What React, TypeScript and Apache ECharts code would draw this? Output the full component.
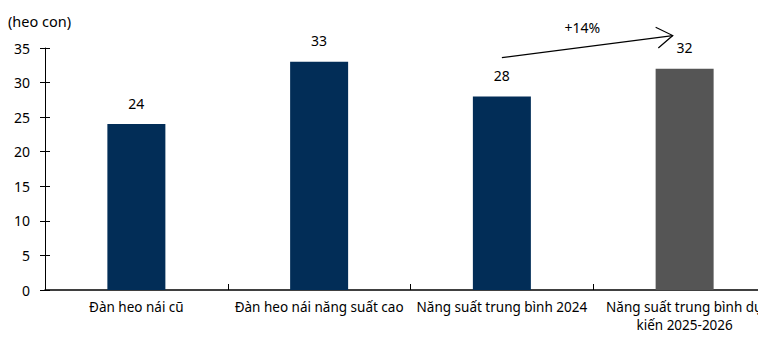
import React, { useEffect, useRef } from "react";
import * as echarts from "echarts";

const categories = [
  "Đàn heo nái cũ",
  "Đàn heo nái năng suất cao",
  "Năng suất trung bình 2024",
  "Năng suất trung bình dự\nkiến 2025-2026",
];
const values = [24, 33, 28, 32];
const barColors = ["#022D57", "#022D57", "#022D57", "#555555"];
const yTicks = [0, 5, 10, 15, 20, 25, 30, 35];
const unitLabel = "(heo con)";
const growthLabel = "+14%";
// arrow endpoints in data space: [category position, value]
const arrowStart = [2, 33.6];
const arrowEnd = [2.935, 36.8];

const FONT = "Noto Sans";

export default function App() {
  const ref = useRef<HTMLDivElement>(null);
  useEffect(() => {
    if (!ref.current) return;
    const chart = echarts.init(ref.current, null, { renderer: "svg" });
    const option: any = {
      animation: false,
      textStyle: { fontFamily: FONT, color: "#000" },
      grid: { left: 45, width: 731, top: 48, height: 242, containLabel: false, outerBoundsMode: "none" },
      xAxis: {
        type: "category",
        data: categories,
        axisLine: { lineStyle: { color: "#000", width: 1.5 } },
        axisTick: { show: true, inside: true, length: 6, lineStyle: { color: "#000" } },
        axisLabel: { fontFamily: FONT, fontSize: 13.5, color: "#000", margin: 8, lineHeight: 18, interval: 0 },
      },
      yAxis: [
        {
          type: "value",
          min: yTicks[0],
          max: yTicks[yTicks.length - 1],
          interval: 5,
          name: unitLabel,
          nameLocation: "end",
          nameGap: 20,
          nameTextStyle: { fontFamily: FONT, fontSize: 14.5, color: "#000", align: "left", padding: [0, 0, 0, -37] },
          splitLine: { show: false },
          axisLine: { show: true, lineStyle: { color: "#000" } },
          axisTick: { show: true, length: 5, lineStyle: { color: "#000" } },
          axisLabel: { fontFamily: FONT, fontSize: 14, color: "#000", margin: 15 },
        },
        {
          type: "value",
          position: "left",
          min: yTicks[0],
          max: yTicks[yTicks.length - 1],
          interval: 5,
          splitLine: { show: false },
          axisLine: { show: false },
          axisTick: { show: true, inside: true, length: 5, lineStyle: { color: "#000" } },
          axisLabel: { show: false },
        },
      ],
      series: [
        {
          type: "bar",
          data: values.map((v, i) => ({ value: v, itemStyle: { color: barColors[i] } })),
          barWidth: 58,
          label: {
            show: true,
            position: "top",
            distance: 14,
            fontFamily: FONT,
            fontSize: 14,
            color: "#000",
          },
        },
      ],
    };
    chart.setOption(option);

    const p2 = chart.convertToPixel({ gridIndex: 0 }, [2, arrowStart[1]]) as number[];
    const p3 = chart.convertToPixel({ gridIndex: 0 }, [3, arrowEnd[1]]) as number[];
    const band = p3[0] - p2[0];
    const sx = p2[0] + band * (arrowStart[0] - 2);
    const sy = p2[1];
    const ex = p2[0] + band * (arrowEnd[0] - 2);
    const ey = p3[1];
    const ang = Math.atan2(ey - sy, ex - sx);
    const hl = 19;
    const spread = 0.58;
    const h1 = [ex - hl * Math.cos(ang - spread), ey - hl * Math.sin(ang - spread)];
    const h2 = [ex - hl * Math.cos(ang + spread), ey - hl * Math.sin(ang + spread)];
    chart.setOption({
      graphic: [
        { type: "line", shape: { x1: sx, y1: sy, x2: ex, y2: ey }, style: { stroke: "#000", lineWidth: 1.2 } },
        { type: "polyline", shape: { points: [h1, [ex, ey], h2] }, style: { stroke: "#000", lineWidth: 1.2, fill: "none" } },
        {
          type: "text",
          x: (sx + ex) / 2 - 5,
          y: Math.min(sy, ey) - 8,
          style: { text: growthLabel, font: `14px ${FONT}`, fill: "#000", align: "center", verticalAlign: "middle" },
        },
      ],
    });
    return () => chart.dispose();
  }, []);
  return <div ref={ref} style={{ width: 766, height: 338, margin: -8 }} />;
}
